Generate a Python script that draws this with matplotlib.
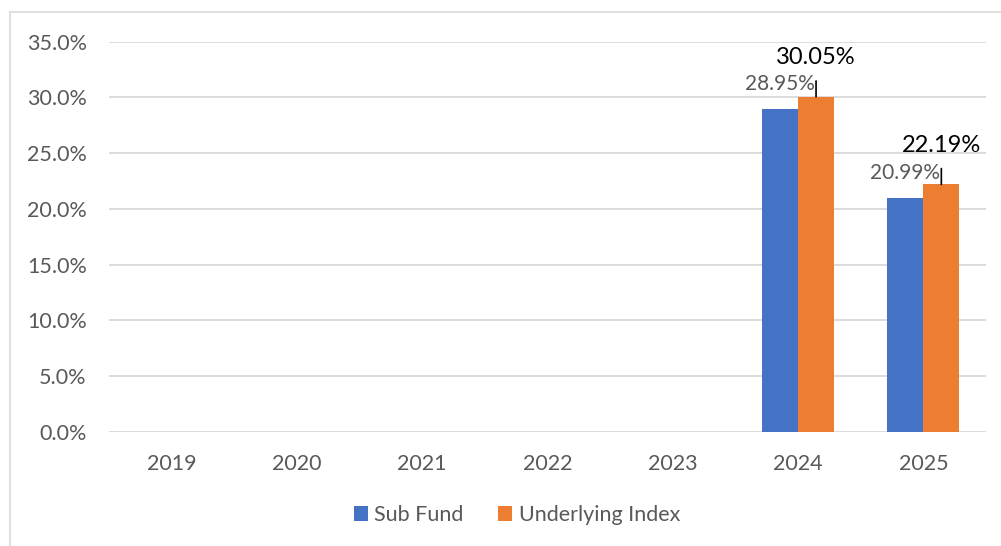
import matplotlib
matplotlib.use("Agg")
import matplotlib.pyplot as plt
import numpy as np
from matplotlib.lines import Line2D
from matplotlib.ticker import PercentFormatter, MultipleLocator

years = ["2019", "2020", "2021", "2022", "2023", "2024", "2025"]
sub_fund = [np.nan, np.nan, np.nan, np.nan, np.nan, 28.95, 20.99]
underlying = [np.nan, np.nan, np.nan, np.nan, np.nan, 30.05, 22.19]
series_names = ["Sub Fund", "Underlying Index"]

BLUE = "#4472C4"
ORANGE = "#ED7D31"
GRID = "#D9D9D9"
TXT = "#595959"

plt.rcParams['font.family'] = ['Lato', 'DejaVu Sans']

W, H = 1001, 546
fig = plt.figure(figsize=(W / 100, H / 100), dpi=100)

# chart frame
fig.add_artist(Line2D([9.5 / W, 9.5 / W], [0, 1 - 12.3 / H], transform=fig.transFigure, color=GRID, lw=1.2))
fig.add_artist(Line2D([9.5 / W, 1.0], [1 - 12.3 / H, 1 - 12.3 / H], transform=fig.transFigure, color=GRID, lw=1.2))

left, right = 109 / W, 986 / W
bottom, top = 1 - 431.7 / H, 1 - 41.7 / H
ax = fig.add_axes([left, bottom, right - left, top - bottom])

x = np.arange(len(years))
bw = 0.287
b1 = ax.bar(x - bw / 2, sub_fund, bw, color=BLUE, label=series_names[0], zorder=3)
b2 = ax.bar(x + bw / 2, underlying, bw, color=ORANGE, label=series_names[1], zorder=3)

ax.set_xlim(-0.5, len(years) - 0.5)
ax.set_ylim(0, 35)
ax.yaxis.set_major_locator(MultipleLocator(5))
ax.yaxis.set_major_formatter(PercentFormatter(decimals=1))
ax.set_xticks(x)
ax.set_xticklabels(years)
ax.grid(axis='y', color=GRID, lw=1.3, zorder=0)
ax.set_axisbelow(True)
for s in ax.spines.values():
    s.set_visible(False)
ax.tick_params(axis='both', length=0, labelsize=15.5, colors=TXT)
ax.tick_params(axis='y', pad=16)
ax.tick_params(axis='x', pad=16)

for xi, v in zip(x, sub_fund):
    if not np.isnan(v):
        ax.annotate(f"{v:.2f}%", xy=(xi - bw / 2, v), xytext=(0, 18), textcoords='offset points',
                    ha='center', va='center', fontsize=15, color=TXT, zorder=5)
for xi, v in zip(x, underlying):
    if not np.isnan(v):
        ax.annotate(f"{v:.2f}%", xy=(xi + bw / 2, v), xytext=(0, 28), textcoords='offset points',
                    ha='center', va='center', fontsize=17, color='black', zorder=5,
                    arrowprops=dict(arrowstyle='-', color='black', lw=1.2, shrinkA=7, shrinkB=0))

leg = fig.legend(handles=[b1, b2], loc='center', bbox_to_anchor=(517 / W, 1 - 515 / H), ncol=2,
                 frameon=False, fontsize=15.5, handlelength=0.65, handleheight=0.65,
                 handletextpad=0.3, columnspacing=1.6)
for t in leg.get_texts():
    t.set_color(TXT)

fig.savefig("out.png", dpi=100)
